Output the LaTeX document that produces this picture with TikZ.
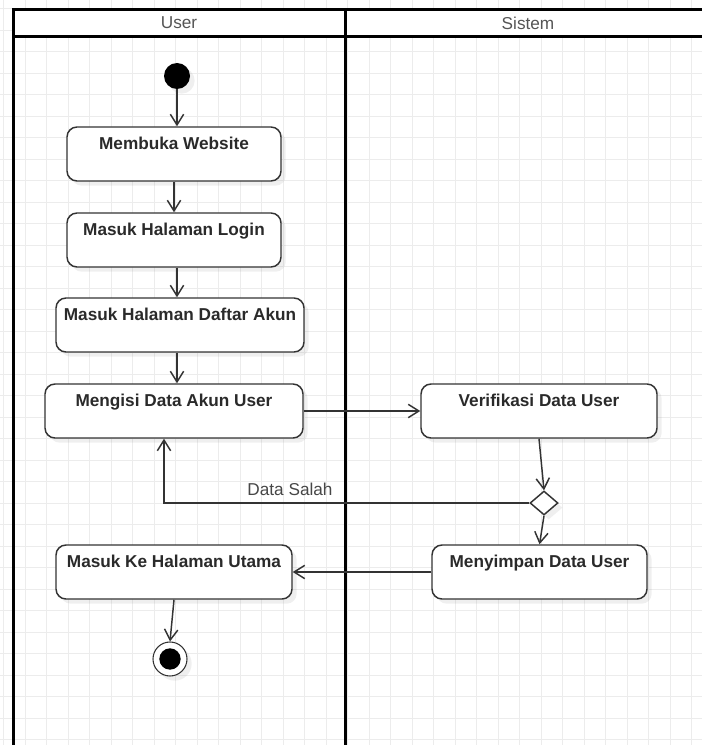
\documentclass[tikz,border=0pt]{standalone}
\usepackage{fontspec}
\setmainfont{Liberation Sans}
\usetikzlibrary{arrows.meta,shapes.geometric,shadows}
\definecolor{gridc}{HTML}{ECECEC}
\definecolor{ink}{HTML}{333333}
\definecolor{txtc}{HTML}{2A2A2A}
\definecolor{headc}{HTML}{555555}
\tikzset{
  lane/.style={line width=2.25pt, black},
  shad/.style={drop shadow={shadow xshift=3.5pt, shadow yshift=-3.5pt, opacity=0.12}},
  actbox/.style={draw=ink, line width=1.1pt, rounded corners=7.5pt, fill=white, inner sep=0pt, minimum height=40.5pt, shad},
  acttext/.style={anchor=base, font=\fontsize{12.9}{15}\selectfont\bfseries, text=txtc, inner sep=0pt},
  headtext/.style={font=\fontsize{12.9}{15}\selectfont, text=headc, inner sep=0pt},
  flow/.style={draw=ink, line width=1.1pt, -{Straight Barb[length=8pt,width=10pt,line width=1.1pt]}},
  startnode/.style={circle, fill=black, minimum size=19.5pt, inner sep=0pt, shad},
  endouter/.style={circle, draw=ink, line width=0.8pt, fill=white, minimum size=25.5pt, inner sep=0pt, shad},
  endinner/.style={circle, fill=black, minimum size=16pt, inner sep=0pt},
  decision/.style={diamond, draw=ink, line width=1.1pt, fill=white, minimum width=21pt, minimum height=18pt, inner sep=0pt, shad},
}
\begin{document}
\begin{tikzpicture}[x=0.75pt,y=-0.75pt]
\useasboundingbox (0,0) rectangle (702,745);
\clip (0,0) rectangle (702,745);
\fill[white] (0,0) rectangle (702,745);
% grid
\foreach \k in {0,...,32} \draw[gridc, line width=0.75pt] (3.5+21.5*\k,0) -- (3.5+21.5*\k,745);
\foreach \k in {0,...,34} \draw[gridc, line width=0.75pt] (0,8.7+21.5*\k) -- (702,8.7+21.5*\k);
% swimlanes
\fill[white] (13,9.5) rectangle (712,36.7);
\draw[lane] (13,760) -- (13,9.5) -- (712,9.5);
\draw[lane] (13,36.7) -- (712,36.7);
\draw[lane] (345,9.5) -- (345,760);
\node[headtext] (hu) at (179,23) {User};
\node[headtext] (hs) at (528,23) {Sistem};
% nodes
\node[startnode] (start) at (177,76) {};
\node[actbox, minimum width=160.5pt] (b1) at (174,154) {};
\node[acttext] (t1) at ([yshift=-17.5pt]b1.north) {Membuka Website};
\node[actbox, minimum width=160.5pt] (b2) at (174,240) {};
\node[acttext] (t2) at ([yshift=-17.5pt]b2.north) {Masuk Halaman Login};
\node[actbox, minimum width=186pt] (b3) at (180,325) {};
\node[acttext] (t3) at ([yshift=-17.5pt]b3.north) {Masuk Halaman Daftar Akun};
\node[actbox, minimum width=193.5pt] (b4) at (174,411) {};
\node[acttext] (t4) at ([yshift=-17.5pt]b4.north) {Mengisi Data Akun User};
\node[actbox, minimum width=177pt] (b5) at (539,411) {};
\node[acttext] (t5) at ([yshift=-17.5pt]b5.north) {Verifikasi Data User};
\node[decision] (dec) at (544,503) {};
\node[actbox, minimum width=161.25pt] (b6) at (539.5,572) {};
\node[acttext] (t6) at ([yshift=-17.5pt]b6.north) {Menyimpan Data User};
\node[actbox, minimum width=177pt] (b7) at (174,572) {};
\node[acttext] (t7) at ([yshift=-17.5pt]b7.north) {Masuk Ke Halaman Utama};
\node[endouter] (endo) at (170,659) {};
\node[endinner] (endi) at (endo.center) {};
% connectors
\draw[flow] (start.south) -- (start.south |- b1.north);
\draw[flow] (b1.south) -- (b2.north);
\draw[flow] ([xshift=2.25pt]b2.south) -- ([xshift=2.25pt]b2.south |- b3.north);
\draw[flow] ([xshift=-2.25pt]b3.south) -- ([xshift=-2.25pt]b3.south |- b4.north);
\draw[flow] (b4.east) -- (b5.west);
\draw[flow] (b5.south) -- (dec.north);
\draw[flow] (dec.south) -- (b6.north);
\draw[flow] (dec.west) -| ([xshift=-7.5pt]b4.south);
\node[headtext, text=ink!90] (lbl) at (290,489) {Data Salah};
\draw[flow] (b6.west) -- (b7.east);
\draw[flow] (b7.south) -- (endo.north);
\end{tikzpicture}
\end{document}
